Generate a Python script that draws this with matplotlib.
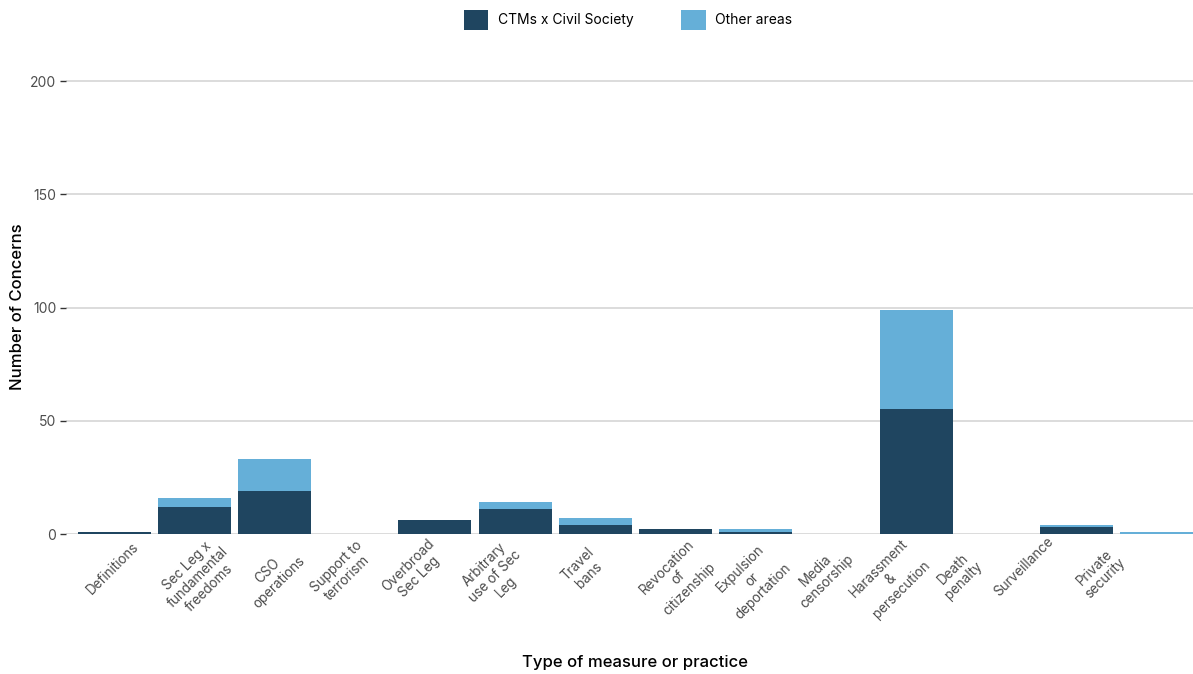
import matplotlib
matplotlib.use("Agg")
import matplotlib.pyplot as plt
from matplotlib.patches import Patch
from matplotlib.transforms import offset_copy

plt.rcParams['font.family'] = ['Inter', 'DejaVu Sans']

# Data
categories = [
    "Definitions",
    "Sec Leg x\nfundamental\nfreedoms",
    "CSO\noperations",
    "Support to\nterrorism",
    "Overbroad\nSec Leg",
    "Arbitrary\nuse of Sec\nLeg",
    "Travel\nbans",
    "Revocation\nof\ncitizenship",
    "Expulsion\nor\ndeportation",
    "Media\ncensorship",
    "Harassment\n&\npersecution",
    "Death\npenalty",
    "Surveillance",
    "Private\nsecurity",
]
ctms_civil = [1, 12, 19, 0, 6, 11, 4, 2, 1, 0, 55, 0, 3, 0]
other_areas = [0, 4, 14, 0, 0, 3, 3, 0, 1, 0, 44, 0, 1, 1]
y_ticks = [0, 50, 100, 150, 200]

# label placement tweaks (pixels, relative to bar centre / baseline)
label_dx = [-1, 4, -1, -13, -21, -20, -12, 3, -4, -15, -26, -38, -53, -57]
label_dy = [-34, -43, -43, -38, -37, -42, -36, -44, -46, -42, -45, -41, -33, -39]

dark = '#1F4560'
light = '#65AFD8'

fig = plt.figure(figsize=(11.93, 6.74), dpi=100)
ax = fig.add_axes([0.0553, 0.2077, 0.9447, 0.7057])

x = list(range(len(categories)))
ax.bar(x, ctms_civil, width=0.91, color=dark, zorder=2)
ax.bar(x, other_areas, width=0.91, bottom=ctms_civil, color=light, zorder=2)

ax.set_xlim(-0.6, 13.45)
ax.set_ylim(0, 210)
ax.set_yticks(y_ticks)
ax.set_yticklabels([str(v) for v in y_ticks], fontsize=10, color='#4D4D4D')
ax.tick_params(axis='y', length=4, width=1, color='#333333', pad=3)
ax.set_xticks([])
ax.grid(axis='y', color='#D9D9D9', linewidth=1.3, zorder=0)
ax.set_axisbelow(True)
for s in ax.spines.values():
    s.set_visible(False)

# rotated category labels
for i, lab in enumerate(categories):
    tr = offset_copy(ax.transData, fig=fig, x=label_dx[i], y=label_dy[i], units='dots')
    ax.text(i, 0, lab, transform=tr, rotation=45, ha='center', va='center',
            multialignment='center', fontsize=9.7, color='#4D4D4D',
            linespacing=1.15, clip_on=False)

fig.text(0.532, 1 - 663 / 674, "Type of measure or practice", ha='center', va='center',
         fontsize=12, fontweight='medium', color='black')
fig.text(18 / 1193, 1 - 307 / 674, "Number of Concerns", rotation=90, ha='center',
         va='center', fontsize=12, fontweight='medium', color='black')

handles = [Patch(facecolor=dark, label='CTMs x Civil Society'),
           Patch(facecolor=light, label='Other areas')]
fig.legend(handles=handles, loc='center', bbox_to_anchor=(0.5265, 1 - 20 / 674), ncol=2,
           frameon=False, fontsize=10, handlelength=1.75, handleheight=1.75,
           columnspacing=3.45, handletextpad=0.7)

fig.savefig('out.png', dpi=100)
